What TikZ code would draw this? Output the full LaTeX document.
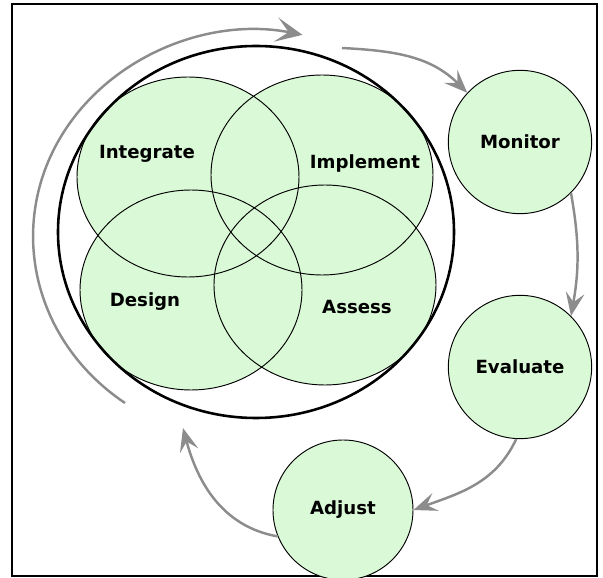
\documentclass[tikz,border=0pt]{standalone}
\usepackage{fontspec}
\setmainfont{Liberation Sans}
\newfontfamily\labelfont{DejaVu Sans}
\usetikzlibrary{arrows.meta}
\definecolor{venngreen}{RGB}{218,249,214}
\definecolor{flowgray}{RGB}{140,140,140}
\tikzset{
  stage/.style={circle, draw, line width=0.8pt, fill=venngreen, minimum size=4.3cm, inner sep=0pt, font=\labelfont\bfseries\fontsize{15.5}{18}\selectfont},
  tag/.style={font=\labelfont\bfseries\fontsize{15.5}{18}\selectfont},
  flow/.style={draw=flowgray, line width=2.1pt, -{Stealth[length=20pt,width=16pt,inset=8pt]}},
}
\begin{document}
\begin{tikzpicture}[x=0.03cm, y=0.03cm]
\useasboundingbox (0,0) rectangle (603,578);
\draw[line width=2.2pt] (12,2) rectangle (597,574);
\begin{scope}[]

    \fill[venngreen] (188,401) ellipse [x radius=111, y radius=100];
    \fill[venngreen] (322,403) ellipse [x radius=111, y radius=100];
    \fill[venngreen] (191,288) ellipse [x radius=111, y radius=100];
    \fill[venngreen] (325,293) ellipse [x radius=111, y radius=100];
    \draw[line width=0.8pt] (188,401) ellipse [x radius=111, y radius=100];
    \draw[line width=0.8pt] (322,403) ellipse [x radius=111, y radius=100];
    \draw[line width=0.8pt] (191,288) ellipse [x radius=111, y radius=100];
    \draw[line width=0.8pt] (325,293) ellipse [x radius=111, y radius=100];
    \draw[line width=2.2pt] (256,346) ellipse [x radius=198, y radius=186];
\end{scope}
\node[tag] (integrate) at (147,424) {Integrate};
\node[tag] (implement) at (365,415) {Implement};
\node[tag] (design) at (145,276) {Design};
\node[tag] (assess) at (357,271) {Assess};
\node[stage] (monitor) at (520,436) {Monitor};
\node[stage] (evaluate) at (520,211) {Evaluate};
\node[stage, minimum size=4.2cm] (adjust) at (343,68) {Adjust};
\coordinate (loopstart) at (125,175);
\coordinate (loopgap) at (342,530);
\coordinate (loopend) at (183,150);
\draw[flow, -{Stealth[length=23pt,width=21pt,inset=11pt]}] (loopstart) arc [start angle=234, end angle=78, x radius=223, y radius=206];
\draw[flow] (loopgap) to[out=-3, in=135] (monitor.137);
\draw[flow] (monitor.-45) to[out=-80, in=80] (evaluate.45);
\draw[flow] (evaluate.-93) to[out=-115, in=20] (adjust.0);
\draw[flow] (adjust.202) to[out=170, in=-75] (loopend);
\end{tikzpicture}
\end{document}
